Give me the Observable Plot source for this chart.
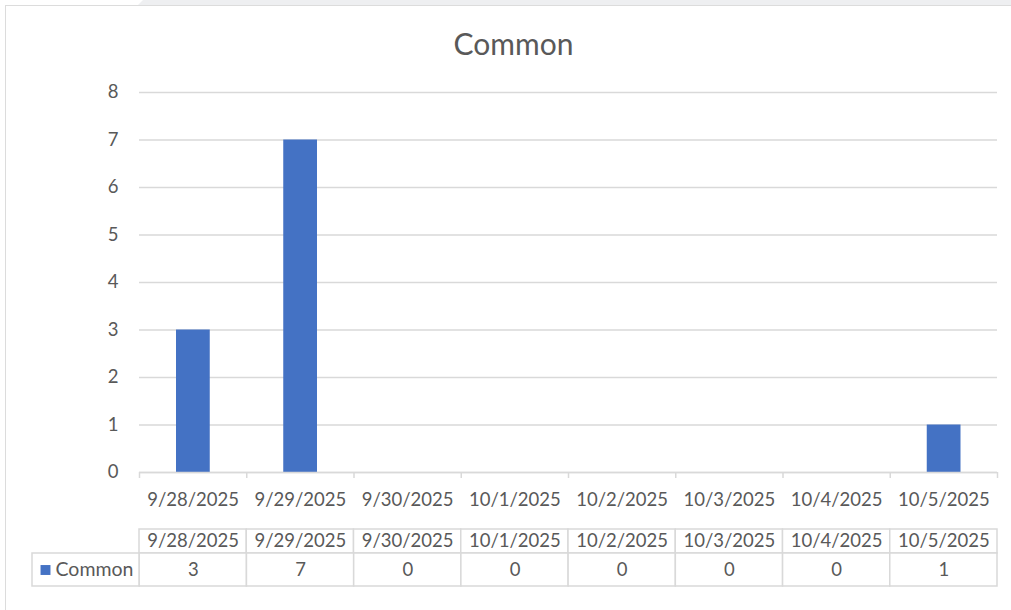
<!DOCTYPE html>
<html>
<head>
<meta charset="utf-8">
<script src="https://cdn.jsdelivr.net/npm/d3@7"></script>
<script src="https://cdn.jsdelivr.net/npm/@observablehq/plot@0.6"></script>
<style>
  body { margin: 0; background: #fff; font-family: Lato, "Open Sans", sans-serif; }
  #wrap { position: relative; width: 1011px; height: 610px; overflow: hidden; background: #fff; }
  #strip { position: absolute; left: 0; top: 0; width: 1011px; height: 5px; background: #eeeff1;
           clip-path: polygon(143px 0, 1011px 0, 1011px 5px, 138px 5px); }
  #card { position: absolute; left: 5px; top: 5px; width: 1100px; height: 700px;
          border-left: 1.5px solid #dcdcdc; border-top: 1.5px solid #dcdcdc; box-sizing: border-box; }
  #title { position: absolute; left: 0; top: 25px; width: 1027px; text-align: center;
           font-size: 30px; color: #595959; }
  .layer { position: absolute; left: 0; }
</style>
</head>
<body>
<div id="wrap">
  <div id="strip"></div>
  <div id="card"></div>
  <div id="title"></div>
  <div id="main" class="layer" style="top:0px"></div>
  <div id="hdr" class="layer" style="top:528px"></div>
  <div id="vals" class="layer" style="top:552px"></div>
</div>
<script>
// ---- data ----
const chartTitle = "Common";
const seriesName = "Common";
const categories = ["9/28/2025", "9/29/2025", "9/30/2025", "10/1/2025", "10/2/2025", "10/3/2025", "10/4/2025", "10/5/2025"];
const values = [3, 7, 0, 0, 0, 0, 0, 1];
const yTicks = [0, 1, 2, 3, 4, 5, 6, 7, 8];

// ---- derived table ----
const data = categories.map((c, i) => ({ i, c, v: values[i] }));
const n = categories.length;
const boundaries = d3.range(n + 1);
const centers = d3.range(n).map(i => i + 0.5);

const FONT = "Lato, 'Open Sans', sans-serif";
const TXT = "#595959";
const GRID = "#d9d9d9";
const BAR = "#4472c4";
const FS = 18.5;

document.getElementById("title").textContent = chartTitle;

const chart = Plot.plot({
  width: 1011, height: 520,
  marginLeft: 139, marginRight: 14, marginTop: 92, marginBottom: 48,
  style: { background: "transparent", fontFamily: FONT, color: TXT, fontSize: FS + "px" },
  x: { domain: [0, n] },
  y: { domain: [0, d3.max(yTicks)] },
  marks: [
    Plot.gridY(yTicks, { stroke: GRID, strokeOpacity: 1, strokeWidth: 1.3 }),
    Plot.axisY(yTicks, { tickSize: 0, tickPadding: 21, label: null, fill: TXT, fontSize: FS }),
    Plot.rectY(data, { x1: "i", x2: d => d.i + 1, y: "v", fill: BAR, insetLeft: 37, insetRight: 36.5 }),
    Plot.ruleY([0], { stroke: GRID, strokeWidth: 1.5 }),
    Plot.axisX(boundaries, { tickSize: 6, stroke: GRID, strokeWidth: 1.5, tickFormat: () => "", label: null }),
    Plot.axisX(centers, { tickSize: 0, tickPadding: 20, tickFormat: t => categories[Math.floor(t)], label: null, fill: TXT, fontSize: FS })
  ]
});
document.getElementById("main").append(chart);

// header row of data table
const hdr = Plot.plot({
  width: 1011, height: 26,
  marginLeft: 139, marginRight: 14, marginTop: 1, marginBottom: 1,
  style: { background: "transparent", fontFamily: FONT, color: TXT, fontSize: FS + "px" },
  x: { domain: [0, n], axis: null },
  marks: [
    Plot.rect(data, { x1: "i", x2: d => d.i + 1, fill: "white", stroke: GRID, strokeWidth: 1.5 }),
    Plot.text(data, { x: d => d.i + 0.5, text: "c", frameAnchor: "middle", fill: TXT, fontSize: FS })
  ]
});
document.getElementById("hdr").append(hdr);

// value row of data table (with legend cell as column -1)
const vals = Plot.plot({
  width: 1011, height: 35,
  marginLeft: 32, marginRight: 14, marginTop: 1, marginBottom: 1,
  style: { background: "transparent", fontFamily: FONT, color: TXT, fontSize: FS + "px" },
  x: { domain: [-1, n], axis: null },
  marks: [
    Plot.rect([{ a: -1, b: 0 }], { x1: "a", x2: "b", fill: "white", stroke: GRID, strokeWidth: 1.5 }),
    Plot.rect(data, { x1: "i", x2: d => d.i + 1, fill: "white", stroke: GRID, strokeWidth: 1.5 }),
    Plot.dot([seriesName], { x: () => -1, dx: 13, frameAnchor: "middle", symbol: "square", r: 5.6, fill: BAR }),
    Plot.text([seriesName], { x: () => -1, dx: 23, text: d => d, textAnchor: "start", frameAnchor: "middle", fill: TXT, fontSize: 19.5 }),
    Plot.text(data, { x: d => d.i + 0.5, text: d => String(d.v), frameAnchor: "middle", fill: TXT, fontSize: FS })
  ]
});
document.getElementById("vals").append(vals);
</script>
</body>
</html>
